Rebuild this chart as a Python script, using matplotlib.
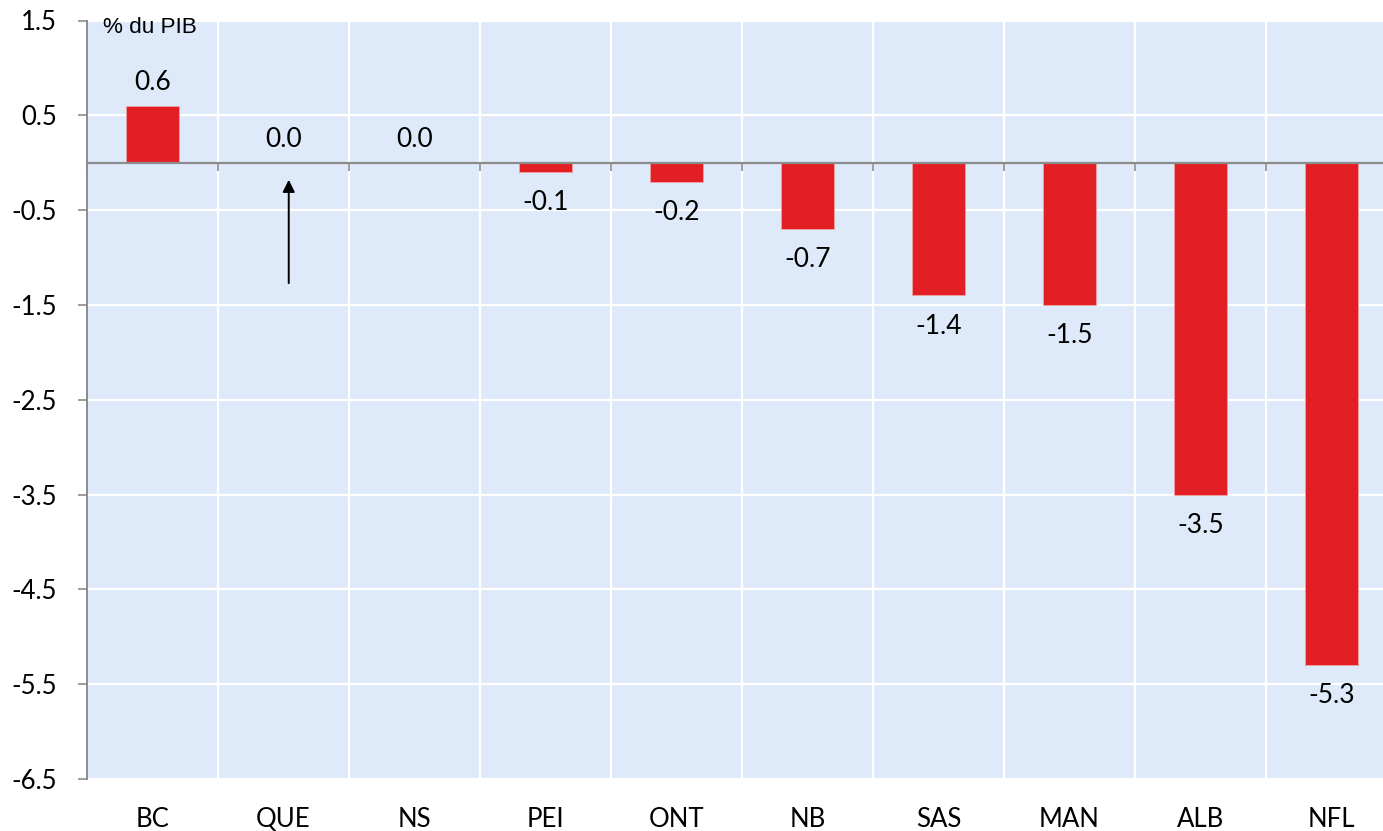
import matplotlib
matplotlib.use("Agg")
import matplotlib.pyplot as plt
import numpy as np

provinces = ["BC", "QUE", "NS", "PEI", "ONT", "NB", "SAS", "MAN", "ALB", "NFL"]
values = [0.6, 0.0, 0.0, -0.1, -0.2, -0.7, -1.4, -1.5, -3.5, -5.3]
y_ticks = [1.5, 0.5, -0.5, -1.5, -2.5, -3.5, -4.5, -5.5, -6.5]
unit_label = "% du PIB"

BG = "#DEEAFA"
RED = "#E31E24"
GREY = "#8C8C8C"
FONT = "Lato"

fig = plt.figure(figsize=(13.83, 8.31), dpi=100)
ax = fig.add_axes([87 / 1383, 1 - 779 / 831, 1310 / 1383, 758.5 / 831])
ax.set_facecolor(BG)

x = np.arange(len(provinces))
ax.bar(x, values, width=0.4, color=RED, edgecolor="#F0A0A0", linewidth=0.6, zorder=3)

ax.set_xlim(-0.5, len(provinces) - 0.5)
ax.set_ylim(-6.5, 1.5)

# grid: white horizontal lines at y ticks, white vertical lines at category boundaries
for yt in y_ticks:
    ax.axhline(yt, color="white", linewidth=1.6, zorder=1)
for b in np.arange(0.5, len(provinces) - 0.5, 1.0):
    ax.axvline(b, color="white", linewidth=1.6, zorder=1)

# value labels
for xi, v in zip(x, values):
    off = 16.5 if v >= 0 else -22
    ax.annotate(f"{v:.1f}", (xi, v), xytext=(0, off), textcoords="offset points",
                ha="center", va="center", fontsize=19, family=FONT, zorder=4)

# spines
for s in ["top", "right"]:
    ax.spines[s].set_visible(False)
ax.spines["left"].set_color(GREY)
ax.spines["left"].set_linewidth(1.4)
ax.spines["bottom"].set_position(("data", 0))
ax.spines["bottom"].set_color(GREY)
ax.spines["bottom"].set_linewidth(1.6)
ax.spines["bottom"].set_zorder(5)

ax.set_yticks(y_ticks)
ax.set_yticklabels([f"{t:.1f}" for t in y_ticks])
ax.tick_params(axis="y", length=6.5, width=1.2, color=GREY, pad=15, labelsize=18.5)
for lab in ax.get_yticklabels():
    lab.set_family(FONT)

ax.set_xticks(np.arange(-0.5, len(provinces) + 0.5, 1.0))
ax.tick_params(axis="x", length=6, width=1.2, color=GREY, labelbottom=False)

for xi, name in zip(x, provinces):
    ax.text(xi, -0.053, name, transform=ax.get_xaxis_transform(), ha="center",
            va="center", fontsize=18.5, family=FONT)

ax.text(16 / 1310, 0.991, unit_label, transform=ax.transAxes, ha="left",
        va="center", fontsize=16.2, family="Liberation Sans")

# arrow pointing to the Quebec bar
ax.annotate("", xy=(1.04, -0.18), xytext=(1.04, -1.27),
            arrowprops=dict(arrowstyle="-|>", color="black", lw=1.4,
                            mutation_scale=18, shrinkA=0, shrinkB=0), zorder=4)

fig.savefig("out.png", dpi=100)
